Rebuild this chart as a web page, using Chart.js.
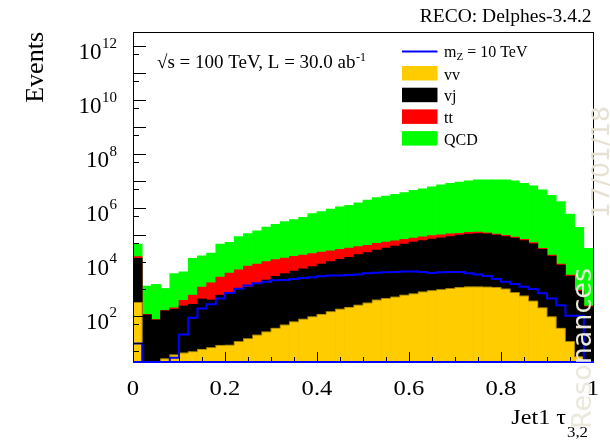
<!DOCTYPE html>
<html lang="es">
<head>
<meta charset="utf-8">
<title>Jet1 tau32</title>
<script src="https://cdn.jsdelivr.net/npm/chart.js@4.4.1/dist/chart.umd.min.js"></script>
<style>
  html, body { margin: 0; padding: 0; background: #ffffff; }
  #contenedor { position: relative; width: 610px; height: 444px; }
</style>
</head>
<body>
<div id="contenedor"><canvas id="grafico"></canvas></div>
<script>
// Bordes de los 50 bins de Jet1 tau_3,2
const bordes = [0.00, 0.02, 0.04, 0.06, 0.08, 0.10, 0.12, 0.14, 0.16, 0.18,
                0.20, 0.22, 0.24, 0.26, 0.28, 0.30, 0.32, 0.34, 0.36, 0.38,
                0.40, 0.42, 0.44, 0.46, 0.48, 0.50, 0.52, 0.54, 0.56, 0.58,
                0.60, 0.62, 0.64, 0.66, 0.68, 0.70, 0.72, 0.74, 0.76, 0.78,
                0.80, 0.82, 0.84, 0.86, 0.88, 0.90, 0.92, 0.94, 0.96, 0.98, 1.00];

// Alturas del stack tal como se ven (acumuladas), eventos por bin
const stackVV = [310, 0, 0, 2.5, 3.5, 4.1, 4.6, 5.6, 6.5, 7.9,
                 8.0, 11, 14, 19, 25, 34, 45, 59, 74, 91,
                 112, 141, 174, 204, 245, 295, 380, 437, 490, 575,
                 646, 759, 851, 933, 1020, 1120, 1170, 1170, 1150, 1120,
                 977, 724, 537, 347, 195, 91, 34, 11, 3.0, 0];
const stackVJ = [13500, 107, 69, 151, 174, 229, 263, 417, 380, 575,
                 724, 977, 1150, 1580, 2090, 2880, 3630, 4470, 5500, 6610,
                 8130, 10200, 12300, 14500, 18600, 21900, 26900, 32400, 38000, 45700,
                 53700, 61700, 69200, 77600, 87100, 97700, 107000, 112000, 110000, 97700,
                 87100, 75900, 61700, 46800, 28800, 16200, 7590, 2950, 813, 214];
const stackTT = [15500, 112, 72, 158, 195, 372, 575, 1150, 1660, 2690,
                 3800, 5010, 6920, 8130, 10200, 12000, 13800, 15800, 17800, 20000,
                 22900, 25700, 28800, 32400, 36300, 40700, 47900, 53700, 60300, 67600,
                 75900, 85100, 93300, 100000, 110000, 115000, 123000, 126000, 120000, 107000,
                 95500, 83200, 67600, 51300, 31600, 17800, 8130, 3240, 891, 229];
const stackQCD = [45700, 1260, 1450, 1020, 3630, 4270, 13500, 16600, 20900, 45700,
                  52500, 87100, 112000, 141000, 195000, 245000, 309000, 372000, 447000, 617000,
                  724000, 912000, 1.10e6, 1.26e6, 1.55e6, 1.95e6, 2.40e6, 2.75e6, 3.16e6, 3.72e6,
                  4.47e6, 5.13e6, 6.03e6, 7.24e6, 8.13e6, 9.12e6, 1.02e7, 1.10e7, 1.10e7, 1.10e7,
                  1.10e7, 1.02e7, 8.13e6, 6.61e6, 4.68e6, 2.95e6, 1.70e6, 5.89e5, 1.91e5, 3.16e4];
// Señal m_Z = 10 TeV (línea, no apilada)
const senalMZ10 = [9.3, 0, 0, 0, 2.75, 20, 83, 186, 263, 437,
                   692, 1000, 1320, 1580, 1820, 2040, 2090, 2290, 2510, 2690,
                   2880, 3090, 3090, 3240, 3390, 3720, 3890, 4070, 4170, 4370,
                   4370, 4170, 3800, 4070, 4170, 4170, 3720, 3390, 2950, 2290,
                   1820, 1480, 1170, 977, 676, 437, 245, 100, 100, 0];

// Etiquetas de los ejes
const xTicksValores = [0, 0.2, 0.4, 0.6, 0.8, 1];
const xTicksEtiquetas = ['0', '0.2', '0.4', '0.6', '0.8', '1'];
const yTicksExponentes = [2, 4, 6, 8, 10, 12];

const Y_MIN = 1.9;
const Y_MAX = 3.4e12;

const COLOR_VV = '#ffcc00';
const COLOR_VJ = '#000000';
const COLOR_TT = '#ff0000';
const COLOR_QCD = '#00ff00';
const COLOR_MZ = '#0000ff';

const SERIF = '"Liberation Serif", "Times New Roman", serif';

// Barras centradas en cada bin (los bins vacíos no se dibujan)
function puntosBarras(valores) {
    return valores.map((v, i) => ({ x: (bordes[i] + bordes[i + 1]) / 2, y: v > 0 ? v : null }));
}

// Línea escalonada desde el borde inferior de cada bin; bins vacíos van al piso del eje
function puntosLinea(valores) {
    return bordes.map((x, i) => {
        const v = valores[Math.min(i, valores.length - 1)];
        return { x: x, y: v > 0 ? v : Y_MIN };
    });
}

// texto estirado en horizontal (las fuentes de la figura salen más anchas)
function textoAncho(ctx, texto, x, y, escala) {
    ctx.save();
    ctx.translate(x, y);
    ctx.scale(escala, 1);
    ctx.fillText(texto, 0, 0);
    ctx.restore();
}

// Marco, ticks, textos y leyenda al estilo ROOT
const decorado = {
    id: 'decorado',
    afterDatasetsDraw(chart) {
        const ctx = chart.ctx;
        const area = chart.chartArea;
        const xs = chart.scales.x;
        const ys = chart.scales.y;
        const L = Math.round(area.left), R = Math.round(area.right);
        const T = Math.round(area.top), B = Math.round(area.bottom);
        ctx.save();
        ctx.fillStyle = '#000';

        // ticks del eje X (cada 0.05, mayores cada 0.2)
        for (let k = 0; k <= 20; k++) {
            const px = Math.round(xs.getPixelForValue(k / 20));
            const largo = k % 4 === 0 ? 10 : 5;
            ctx.fillRect(px, B - largo, 1, largo);
        }
        // ticks del eje Y (décadas y 5x)
        for (let n = 0; n <= 13; n++) {
            [[Math.pow(10, n), 13], [5 * Math.pow(10, n), 6]].forEach(([v, largo]) => {
                if (v < Y_MIN || v > Y_MAX) return;
                const py = Math.round(ys.getPixelForValue(v));
                ctx.fillRect(L, py, largo, 1);
            });
        }
        // marco
        ctx.fillRect(L, T, R - L + 1, 1);
        ctx.fillRect(L, T, 1, B - T + 1);
        ctx.fillRect(R, T, 1, B - T + 1);
        ctx.fillStyle = COLOR_MZ;
        ctx.fillRect(L, B - 1, R - L + 1, 2);

        ctx.fillStyle = '#000';
        ctx.textBaseline = 'alphabetic';

        // etiquetas eje Y: 10^n
        yTicksExponentes.forEach(exp => {
            const py = ys.getPixelForValue(Math.pow(10, exp));
            ctx.font = '15px ' + SERIF;
            const wSup = ctx.measureText(String(exp)).width;
            ctx.textAlign = 'left';
            ctx.fillText(String(exp), 117 - wSup, py + 1.5);
            ctx.font = '23px ' + SERIF;
            ctx.textAlign = 'right';
            ctx.fillText('10', 117 - wSup - 0.5, py + 13);
        });

        // etiquetas eje X
        ctx.font = '22px ' + SERIF;
        ctx.textAlign = 'center';
        xTicksValores.forEach((v, i) => {
            textoAncho(ctx, xTicksEtiquetas[i], xs.getPixelForValue(v), 395, 1.12);
        });

        // título eje Y
        ctx.save();
        ctx.translate(43, T);
        ctx.rotate(-Math.PI / 2);
        ctx.font = '26px ' + SERIF;
        ctx.textAlign = 'right';
        ctx.fillText('Events', 0, 0);
        ctx.restore();

        // título eje X: Jet1 tau_{3,2}
        ctx.textAlign = 'right';
        ctx.font = '15px ' + SERIF;
        const wSub = ctx.measureText('3,2').width * 1.12;
        textoAncho(ctx, '3,2', 588, 436.5, 1.12);
        ctx.font = '21px ' + SERIF;
        textoAncho(ctx, 'Jet1 \u03c4', 588 - wSub - 1, 423.5, 1.15);

        // cabecera
        ctx.font = '19.5px ' + SERIF;
        ctx.textAlign = 'right';
        ctx.fillText('RECO: Delphes-3.4.2', 591.5, 21.5);

        ctx.font = '19px ' + SERIF;
        ctx.textAlign = 'left';
        const textoLumi = '\u221as = 100 TeV, L = 30.0 ab';
        ctx.fillText(textoLumi, 157, 68);
        const wLumi = ctx.measureText(textoLumi).width;
        ctx.font = '12px ' + SERIF;
        ctx.fillText('-1', 157 + wLumi + 0.5, 61);

        // leyenda
        const legX = 402, legW = 35.5, legTexto = 444;
        ctx.fillStyle = COLOR_MZ;
        ctx.fillRect(legX, 50.5, legW, 2);
        ctx.fillStyle = '#000';
        ctx.font = '16px ' + SERIF;
        ctx.fillText('m', legTexto, 57);
        const wm = ctx.measureText('m').width;
        ctx.font = '11px ' + SERIF;
        ctx.fillText('Z', legTexto + wm, 60);
        const wz = ctx.measureText('Z').width;
        ctx.font = '16px ' + SERIF;
        ctx.fillText(' = 10 TeV', legTexto + wm + wz, 57);

        const entradas = [['vv', COLOR_VV], ['vj', COLOR_VJ], ['tt', COLOR_TT], ['QCD', COLOR_QCD]];
        entradas.forEach(([nombre, color], i) => {
            const top = 66 + i * 21.7;
            ctx.fillStyle = color;
            ctx.fillRect(legX, top, legW, 14.5);
            ctx.fillStyle = '#000';
            ctx.fillText(nombre, legTexto, top + 13.5);
        });

        // marca de agua
        ctx.save();
        ctx.fillStyle = '#ebe8dc';
        ctx.font = '27px "DejaVu Sans", sans-serif';
        ctx.translate(591, 268);
        ctx.rotate(-Math.PI / 2);
        ctx.textAlign = 'right';
        ctx.fillText('Resonances', 0, 0);
        ctx.restore();
        ctx.save();
        ctx.fillStyle = '#e6e1d2';
        ctx.font = '25px "DejaVu Sans", sans-serif';
        ctx.translate(609, 106);
        ctx.rotate(-Math.PI / 2);
        ctx.textAlign = 'right';
        ctx.fillText('17/01/18', 0, 0);
        ctx.restore();

        ctx.restore();
    }
};

new Chart(document.getElementById('grafico').getContext('2d'), {
    data: {
        datasets: [
            {
                type: 'line', label: 'm_Z = 10 TeV', order: 0,
                data: puntosLinea(senalMZ10), stepped: 'before',
                borderColor: COLOR_MZ, borderWidth: 2, pointRadius: 0, fill: false
            },
            {
                // contorno oscuro del histograma vv (como lo dibuja ROOT)
                type: 'line', label: 'vv borde', order: 1,
                data: puntosLinea(stackVV), stepped: 'before',
                borderColor: 'rgba(110, 90, 0, 0.6)', borderWidth: 1, pointRadius: 0, fill: false
            },
            { type: 'bar', label: 'vv', order: 2, data: puntosBarras(stackVV), backgroundColor: COLOR_VV },
            { type: 'bar', label: 'vj', order: 3, data: puntosBarras(stackVJ), backgroundColor: COLOR_VJ },
            { type: 'bar', label: 'tt', order: 4, data: puntosBarras(stackTT), backgroundColor: COLOR_TT },
            { type: 'bar', label: 'QCD', order: 5, data: puntosBarras(stackQCD), backgroundColor: COLOR_QCD }
        ]
    },
    options: {
        responsive: true,
        maintainAspectRatio: false,
        animation: false,
        devicePixelRatio: 1,
        layout: { padding: { left: 133, right: 17, top: 32, bottom: 82 } },
        datasets: {
            bar: { grouped: false, barPercentage: 1, categoryPercentage: 1, borderWidth: 0 }
        },
        scales: {
            x: { type: 'linear', min: 0, max: 1, offset: false, display: false },
            y: { type: 'logarithmic', min: Y_MIN, max: Y_MAX, display: false }
        },
        plugins: {
            legend: { display: false },
            tooltip: { enabled: false }
        }
    },
    plugins: [decorado]
});
</script>
</body>
</html>
